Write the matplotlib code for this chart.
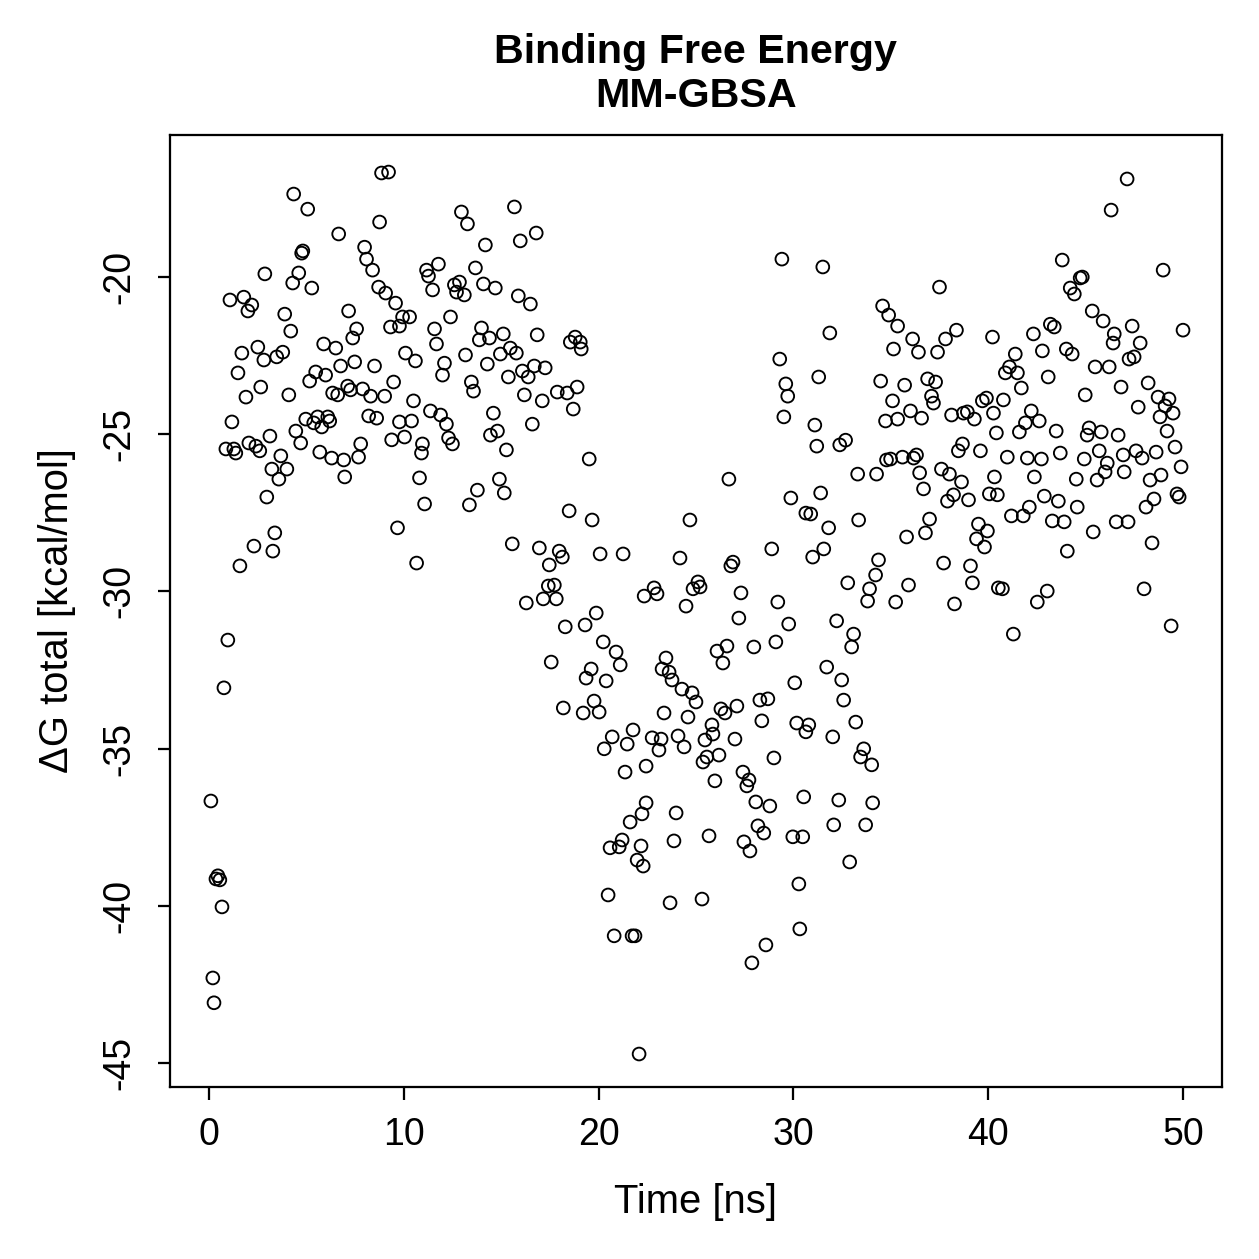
import numpy as np
import matplotlib
matplotlib.use("Agg")
import matplotlib.pyplot as plt

plt.rcParams['font.family'] = ['Liberation Sans', 'DejaVu Sans']

# MM-GBSA binding free energy per frame (time in ns, dG in kcal/mol)
# 0 - 1 ns (start of the run)
t_start = [0.10, 0.20, 0.26, 0.36, 0.46, 0.56, 0.67, 0.77, 0.97]
dg_start = [-36.67, -42.30, -43.09, -39.15, -39.05, -39.18, -40.04, -33.07, -31.55]

# 0 - 10 ns
t_a = [8.86, 9.22, 4.35, 5.07, 8.76, 6.66, 7.99, 4.82, 4.76, 8.09,
       8.40, 2.87, 4.61, 4.30, 5.28, 8.71, 9.07, 1.08, 1.79, 2.20,
       2.00, 9.58, 3.89, 7.17, 9.94, 7.58, 7.38, 9.32, 9.78, 4.20,
       2.51, 1.69, 2.82, 3.48, 3.79, 5.89, 6.51, 10.09, 1.49, 5.48,
       5.99, 5.17, 6.76, 7.48, 8.50, 9.48, 2.66, 1.90, 4.10, 6.35,
       6.61, 7.12, 7.27, 7.89, 8.30, 9.02, 1.18, 4.97, 5.38, 5.58,
       5.79, 6.10, 6.20, 8.20, 8.61, 9.78, 3.13, 4.46, 4.71, 2.05,
       2.41, 2.61, 0.87, 1.28, 1.38, 5.69, 6.30, 6.92, 7.79, 7.68,
       9.38, 10.04, 3.69, 3.23, 4.00, 3.59, 6.97, 2.97, 3.38, 2.31,
       3.28, 1.59, 9.68]
dg_a = [-16.69, -16.66, -17.36, -17.84, -18.25, -18.63, -19.05, -19.17, -19.24, -19.43,
        -19.78, -19.90, -19.87, -20.19, -20.35, -20.32, -20.51, -20.73, -20.64, -20.89,
        -21.08, -20.83, -21.18, -21.08, -21.27, -21.65, -21.94, -21.59, -21.56, -21.72,
        -22.23, -22.42, -22.64, -22.54, -22.39, -22.13, -22.26, -22.42, -23.05, -23.02,
        -23.12, -23.31, -22.83, -22.70, -22.83, -23.34, -23.50, -23.82, -23.75, -23.69,
        -23.75, -23.47, -23.59, -23.56, -23.79, -23.79, -24.61, -24.52, -24.64, -24.45,
        -24.77, -24.45, -24.58, -24.42, -24.49, -24.61, -25.06, -24.90, -25.28, -25.28,
        -25.38, -25.53, -25.47, -25.47, -25.60, -25.57, -25.76, -25.82, -25.31, -25.73,
        -25.18, -25.09, -25.69, -26.11, -26.11, -26.43, -26.36, -27.00, -28.14, -28.56,
        -28.72, -29.19, -27.98]

# 10 - 20 ns
t_b = [12.96, 13.27, 15.68, 16.80, 15.98, 14.19, 11.78, 11.17, 11.27, 11.48,
       13.68, 12.60, 12.86, 12.71, 13.11, 14.09, 14.70, 15.88, 16.50, 10.30,
       12.40, 11.58, 11.68, 10.60, 12.09, 11.99, 13.17, 13.99, 13.88, 14.40,
       15.11, 16.85, 14.96, 15.47, 15.78, 14.29, 15.37, 16.09, 16.39, 16.70,
       17.26, 18.55, 18.80, 19.06, 19.11, 13.47, 13.58, 16.19, 17.11, 17.88,
       18.39, 18.90, 18.70, 16.60, 14.60, 14.45, 14.81, 15.27, 10.50, 10.40,
       11.37, 11.89, 12.19, 12.30, 12.50, 10.96, 10.91, 19.52, 10.81, 11.07,
       13.78, 13.37, 14.91, 15.16, 10.66, 18.49, 19.67]
dg_b = [-17.93, -18.31, -17.77, -18.60, -18.85, -18.98, -19.59, -19.78, -19.97, -20.41,
        -19.71, -20.25, -20.16, -20.48, -20.57, -20.22, -20.35, -20.60, -20.86, -21.27,
        -21.27, -21.65, -22.13, -22.67, -22.74, -23.12, -22.48, -21.62, -22.00, -21.94,
        -21.81, -21.84, -22.45, -22.26, -22.42, -22.77, -23.18, -22.99, -23.18, -22.83,
        -22.89, -22.07, -21.91, -22.07, -22.29, -23.34, -23.63, -23.75, -23.94, -23.66,
        -23.69, -23.50, -24.20, -24.68, -24.33, -25.03, -24.90, -25.50, -23.94, -24.58,
        -24.26, -24.39, -24.68, -25.12, -25.31, -25.31, -25.60, -25.79, -26.39, -27.22,
        -26.78, -27.25, -26.43, -26.87, -29.10, -27.44, -27.73]

# 15 - 23 ns (drop)
t_c = [15.57, 16.96, 17.98, 18.14, 20.08, 21.26, 17.47, 17.42, 17.73, 17.16,
       17.83, 16.29, 22.34, 18.29, 19.31, 19.88, 17.57, 20.24, 20.90, 21.11,
       19.62, 19.36, 20.39, 18.19, 19.21, 19.77, 20.03, 21.77, 20.70, 20.29,
       21.47, 21.36, 22.44, 21.62, 22.23, 22.44, 20.59, 21.06, 21.21, 22.18,
       21.98, 22.29, 20.49, 20.80, 21.72, 21.87, 22.08]
dg_c = [-28.49, -28.62, -28.72, -28.91, -28.81, -28.81, -29.16, -29.83, -29.80, -30.24,
        -30.24, -30.37, -30.15, -31.13, -31.07, -30.69, -32.25, -31.61, -31.93, -32.34,
        -32.47, -32.76, -32.85, -33.71, -33.87, -33.49, -33.84, -34.41, -34.63, -35.01,
        -34.86, -35.75, -35.56, -37.34, -37.08, -36.73, -38.16, -38.13, -37.91, -38.10,
        -38.55, -38.74, -39.66, -40.96, -40.96, -40.96, -44.72]

# 22 - 31 ns
t_d = [26.69, 29.87, 30.64, 24.69, 28.89, 24.18, 26.90, 26.79, 22.85, 23.00,
       25.10, 24.85, 25.21, 24.49, 27.31, 29.20, 27.20, 29.76, 26.08, 26.59,
       26.38, 27.97, 29.10, 30.07, 23.46, 23.26, 23.62, 23.77, 24.28, 24.80,
       25.00, 23.36, 24.59, 26.28, 26.49, 27.10, 28.28, 28.69, 28.38, 30.17,
       30.64, 22.75, 23.21, 23.10, 24.08, 24.39, 25.82, 25.87, 25.46, 27.00,
       25.36, 25.56, 26.18, 29.00, 25.97, 27.41, 27.72, 27.61, 23.98, 28.07,
       28.79, 30.53, 28.18, 28.48, 29.97, 30.48, 23.87, 25.67, 27.46, 27.77,
       30.28, 23.67, 25.31, 30.33, 28.59, 27.87]
dg_d = [-26.43, -27.03, -27.51, -27.73, -28.65, -28.94, -29.07, -29.19, -29.89, -30.08,
        -29.70, -29.92, -29.86, -30.47, -30.05, -30.34, -30.85, -31.04, -31.90, -31.74,
        -32.28, -31.77, -31.61, -32.91, -32.12, -32.47, -32.57, -32.82, -33.11, -33.23,
        -33.52, -33.87, -34.00, -33.74, -33.87, -33.65, -33.46, -33.42, -34.12, -34.19,
        -34.47, -34.66, -34.70, -35.05, -34.60, -34.95, -34.25, -34.54, -34.73, -34.70,
        -35.43, -35.27, -35.21, -35.30, -36.03, -35.75, -36.00, -36.19, -37.05, -36.70,
        -36.83, -36.54, -37.46, -37.69, -37.81, -37.81, -37.94, -37.78, -37.97, -38.26,
        -39.31, -39.91, -39.79, -40.74, -41.25, -41.82]

# 29 - 36 ns (recovery)
t_e = [29.41, 31.51, 34.58, 34.89, 35.35, 31.87, 35.14, 29.30, 31.30, 29.61,
       29.71, 34.48, 35.09, 34.73, 35.35, 29.51, 31.10, 31.20, 32.38, 32.68,
       34.78, 34.99, 35.60, 33.30, 34.27, 31.40, 30.89, 31.81, 33.35, 30.99,
       31.56, 34.37, 32.79, 34.22, 33.91, 33.81, 35.25, 32.22, 33.09, 32.99,
       31.71, 32.48, 32.58, 30.79, 32.02, 33.20, 33.61, 33.45, 34.02, 32.33,
       34.07, 32.07, 33.71, 32.89]
dg_e = [-19.43, -19.68, -20.92, -21.21, -21.56, -21.78, -22.29, -22.61, -23.18, -23.40,
        -23.79, -23.31, -23.94, -24.58, -24.52, -24.45, -24.71, -25.38, -25.34, -25.19,
        -25.82, -25.79, -25.73, -26.27, -26.27, -26.87, -27.54, -27.98, -27.73, -28.91,
        -28.65, -29.00, -29.73, -29.48, -29.92, -30.31, -30.34, -30.94, -31.36, -31.77,
        -32.41, -32.82, -33.46, -34.25, -34.63, -34.16, -35.01, -35.27, -35.52, -36.64,
        -36.73, -37.43, -37.43, -38.61]

# 35 - 41 ns
t_f = [37.50, 36.12, 36.42, 37.40, 37.81, 38.37, 40.22, 35.71, 36.89, 37.30,
       37.09, 37.19, 36.01, 36.58, 38.12, 38.73, 38.93, 39.29, 39.70, 39.91,
       40.27, 40.42, 38.47, 38.68, 39.60, 36.17, 36.32, 36.48, 36.68, 37.60,
       38.01, 38.63, 38.22, 37.91, 38.99, 40.06, 40.47, 40.32, 36.99, 36.78,
       35.81, 39.50, 39.96, 39.40, 39.81, 35.91, 37.71, 39.09, 39.19, 38.27,
       40.52]
dg_f = [-20.32, -21.97, -22.39, -22.39, -21.97, -21.69, -21.91, -23.44, -23.24, -23.34,
        -23.79, -24.01, -24.26, -24.49, -24.39, -24.33, -24.29, -24.52, -23.94, -23.85,
        -24.33, -24.96, -25.53, -25.31, -25.53, -25.76, -25.66, -26.23, -26.74, -26.11,
        -26.27, -26.52, -26.93, -27.13, -27.09, -26.90, -26.93, -26.36, -27.70, -28.14,
        -28.27, -27.86, -28.08, -28.33, -28.59, -29.80, -29.10, -29.19, -29.73, -30.40,
        -29.89]

# 40 - 50 ns
t_g = [47.13, 46.31, 43.80, 48.98, 44.72, 44.83, 44.21, 44.42, 45.34, 45.90,
       43.19, 43.39, 42.32, 47.39, 46.47, 46.41, 47.80, 50.00, 41.39, 42.78,
       44.01, 44.31, 41.09, 40.88, 41.50, 45.49, 46.21, 47.23, 47.49, 43.08,
       41.70, 46.82, 48.21, 44.98, 40.78, 42.21, 41.91, 42.62, 41.60, 43.49,
       45.18, 45.08, 45.80, 46.67, 47.70, 48.72, 49.28, 49.08, 49.49, 48.82,
       49.18, 49.59, 40.98, 42.01, 42.73, 43.70, 44.93, 45.70, 46.11, 46.00,
       45.59, 46.93, 47.59, 47.90, 48.62, 49.90, 46.98, 48.87, 48.31, 42.37,
       44.52, 42.88, 43.60, 42.11, 41.19, 41.80, 44.57, 43.29, 43.90, 48.51,
       48.10, 49.69, 49.80, 45.39, 46.57, 47.18, 48.41, 44.06, 40.73, 43.03,
       42.52, 48.00, 41.29, 49.39]
dg_g = [-16.88, -17.87, -19.46, -19.78, -20.03, -20.00, -20.35, -20.54, -21.08, -21.40,
        -21.50, -21.59, -21.81, -21.56, -21.81, -22.10, -22.10, -21.69, -22.45, -22.35,
        -22.29, -22.45, -22.86, -23.05, -23.05, -22.86, -22.86, -22.61, -22.54, -23.18,
        -23.53, -23.50, -23.37, -23.75, -23.91, -24.26, -24.64, -24.58, -24.93, -24.90,
        -24.80, -25.03, -24.93, -25.03, -24.14, -23.82, -23.88, -24.10, -24.33, -24.45,
        -24.90, -25.41, -25.73, -25.76, -25.79, -25.60, -25.79, -25.53, -25.92, -26.20,
        -26.46, -25.66, -25.53, -25.76, -25.57, -26.04, -26.20, -26.30, -26.46, -26.36,
        -26.43, -26.97, -27.13, -27.32, -27.60, -27.60, -27.32, -27.76, -27.79, -27.06,
        -27.32, -26.90, -27.00, -28.11, -27.79, -27.79, -28.46, -28.72, -29.92, -29.99,
        -30.34, -29.92, -31.36, -31.10]

time_ns = np.concatenate([t_start, t_a, t_b, t_c, t_d, t_e, t_f, t_g])
dg_total = np.concatenate([dg_start, dg_a, dg_b, dg_c, dg_d, dg_e, dg_f, dg_g])
assert len(time_ns) == len(dg_total)

fig = plt.figure(figsize=(1259 / 180, 1259 / 180), dpi=180)
ax = fig.add_axes([0.135, 0.1366, 0.8356, 0.7562])

ax.scatter(time_ns, dg_total, s=26, facecolors='none', edgecolors='black', linewidths=0.75)

ax.set_xlim(-2, 52)
ax.set_ylim(-45.77, -15.48)
ax.set_xticks([0, 10, 20, 30, 40, 50])
ax.set_yticks([-45, -40, -35, -30, -25, -20])
ax.set_yticklabels(['-45', '-40', '-35', '-30', '-25', '-20'], rotation=90, va='center')

for s in ax.spines.values():
    s.set_linewidth(0.9)
ax.tick_params(direction='out', length=5, width=0.9, labelsize=15)
ax.tick_params(axis='x', pad=7)
ax.tick_params(axis='y', pad=8)

ax.set_xlabel('Time [ns]', fontsize=16, labelpad=12)
ax.set_ylabel('ΔG total [kcal/mol]', fontsize=16, labelpad=10)
ax.set_title('Binding Free Energy\nMM-GBSA', fontsize=16.5, fontweight='bold', pad=11)

fig.savefig('out.png', dpi=180)
